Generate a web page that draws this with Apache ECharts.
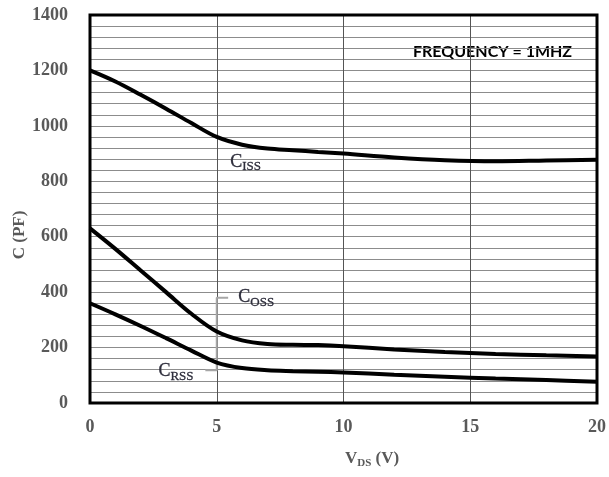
<!DOCTYPE html>
<html>
<head>
<meta charset="utf-8">
<script src="https://cdn.jsdelivr.net/npm/echarts@6/dist/echarts.min.js"></script>
<style>
html,body{margin:0;padding:0;background:#fff;}
#chart{width:609px;height:477px;}
</style>
</head>
<body>
<div id="chart"></div>
<script>
// Drain-source voltage samples (V)
const vds = [0, 1, 2, 3, 4, 5, 6, 7, 8, 9, 10, 12, 14, 16, 18, 20];
// Capacitance curves (pF)
const ciss = [1200, 1160, 1112, 1062, 1010, 960, 932, 918, 912, 906, 900, 886, 876, 872, 875, 878];
const coss = [630, 556, 478, 400, 322, 258, 226, 213, 210, 209, 205, 193, 184, 177, 172, 168];
const crss = [360, 320, 278, 234, 189, 146, 126, 118, 115, 113, 110, 102, 95, 88, 83, 77];
// Bracket marking the Coss / Crss gap at 5 V
const bracket = [[5.45, 380], [5, 380], [5, 118], [4.55, 118]];
const yTicks = [0, 200, 400, 600, 800, 1000, 1200, 1400];

const pair = (ys) => vds.map((x, i) => [x, ys[i]]);
const tickFont = { fontFamily: 'Liberation Serif', fontWeight: 'bold', fontSize: 18, color: '#595959' };
const subRich = {
  c: { fontFamily: 'Liberation Serif', fontSize: 18, color: '#2e2e3c', lineHeight: 20, verticalAlign: 'middle', textBorderColor: '#2e2e3c', textBorderWidth: 0.3 },
  s: { fontFamily: 'Liberation Serif', fontSize: 13, color: '#2e2e3c', lineHeight: 20, verticalAlign: 'middle', padding: [10, 0, 0, 0], textBorderColor: '#2e2e3c', textBorderWidth: 0.3 }
};
function tag(name, sub, x, y) {
  return {
    coord: [x, y], symbol: 'circle', symbolSize: 1, value: 0,
    itemStyle: { color: 'rgba(0,0,0,0)' },
    label: { show: true, position: 'right', distance: 0,
      formatter: '{c|' + name + '}{s|' + sub + '}', rich: subRich }
  };
}
const curve = (name, ys, extra) => Object.assign({
  name, type: 'line', data: pair(ys), smooth: 0.35, symbol: 'none',
  lineStyle: { color: '#000', width: 4 }, z: 5
}, extra || {});

const chart = echarts.init(document.getElementById('chart'));
chart.setOption({
  animation: false,
  backgroundColor: '#fff',
  grid: { left: 90, right: 11, top: 15, bottom: 74, show: true, borderColor: '#000', borderWidth: 3, backgroundColor: 'transparent', z: 10 },
  xAxis: {
    type: 'value', min: 0, max: 20, interval: 5,
    axisLine: { show: false }, axisTick: { show: false },
    axisLabel: Object.assign({ margin: 15 }, tickFont),
    splitLine: { show: true, lineStyle: { color: '#555', width: 1 } }
  },
  yAxis: {
    type: 'value', min: 0, max: 1400, interval: 40,
    axisLine: { show: false }, axisTick: { show: false },
    axisLabel: Object.assign({ margin: 22, formatter: v => yTicks.includes(v) ? String(v) : '' }, tickFont),
    splitLine: { show: true, lineStyle: { color: '#8c8c8c', width: 1 } }
  },
  series: [
    curve('Ciss', ciss, { markPoint: { data: [tag('C', 'ISS', 5.51, 870)] } }),
    curve('Coss', coss, { markPoint: { data: [tag('C', 'OSS', 5.83, 381)] } }),
    curve('Crss', crss, { markPoint: { data: [tag('C', 'RSS', 2.68, 114)] } }),
    { name: 'bracket', type: 'line', data: bracket, symbol: 'none', smooth: false,
      lineStyle: { color: '#a6a6a6', width: 2 }, z: 3 }
  ],
  graphic: [
    { type: 'text', x: 413, y: 52,
      style: { text: 'FREQUENCY = 1MHZ', font: 'bold 16px Lato, "Open Sans", sans-serif', fill: '#000', textVerticalAlign: 'middle' } },
    { type: 'text', x: 20, y: 235, rotation: Math.PI / 2,
      style: { text: 'C (PF)', font: 'bold 17px "Liberation Serif", serif', fill: '#595959', textAlign: 'center', textVerticalAlign: 'middle' } },
    { type: 'text', x: 345, y: 459,
      style: { text: '{v|V}{s|DS}{v| (V)}', textVerticalAlign: 'middle',
        rich: {
          v: { fontFamily: 'Liberation Serif', fontWeight: 'bold', fontSize: 17, fill: '#595959', lineHeight: 20, verticalAlign: 'middle' },
          s: { fontFamily: 'Liberation Serif', fontWeight: 'bold', fontSize: 11, fill: '#595959', lineHeight: 20, verticalAlign: 'middle', padding: [8, 0, 0, 0] }
        } } }
  ]
});
</script>
</body>
</html>
